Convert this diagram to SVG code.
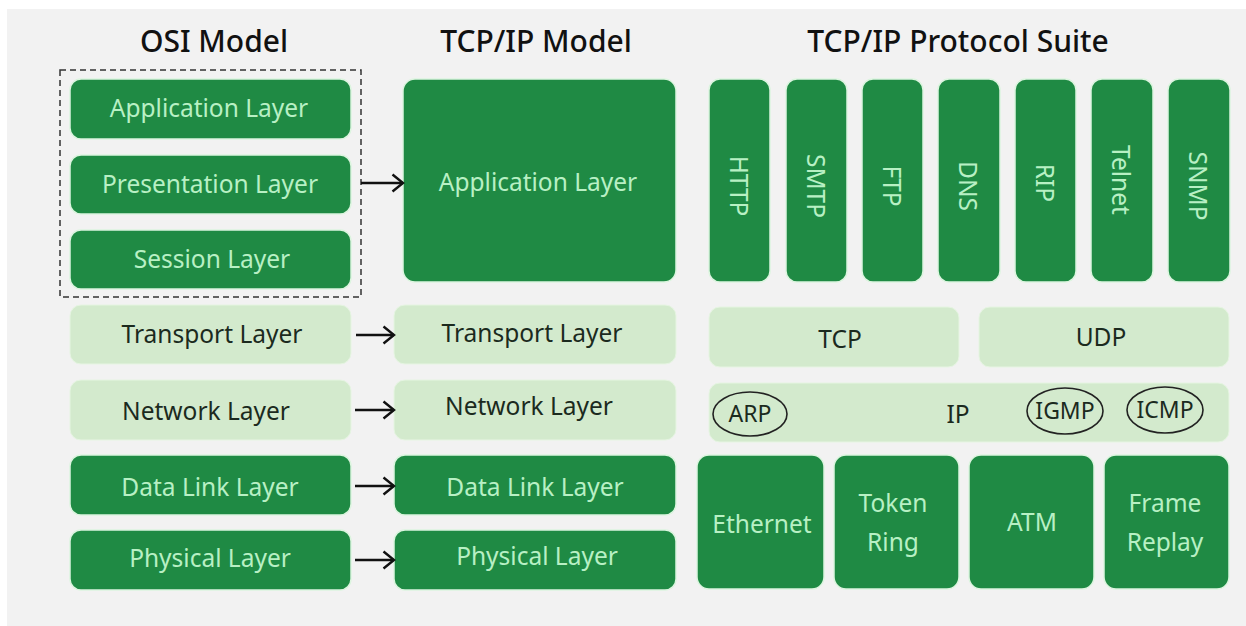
<svg xmlns="http://www.w3.org/2000/svg" width="1246" height="626" viewBox="0 0 1246 626">
<defs>
<style>
.dk{fill:#1f8a44;stroke:#dcf5df;stroke-width:1.5}
.lt{fill:#d3eacd;stroke:#e6f5e2;stroke-width:1}
.tl{font-family:"Noto Sans","Liberation Sans",sans-serif;font-size:24.5px;fill:#b8f0c4;text-anchor:middle;dominant-baseline:central}
.td{font-family:"Noto Sans","Liberation Sans",sans-serif;font-size:24.5px;fill:#1b2a1e;text-anchor:middle;dominant-baseline:central}
.sm{font-size:23px}
.title{font-family:"Noto Sans","Liberation Sans",sans-serif;font-size:30px;font-weight:500;fill:#111;text-anchor:middle}
.arr{stroke:#111;stroke-width:2.4;fill:none}
.ov{fill:none;stroke:#222;stroke-width:1.6}
</style>
<marker id="ah" viewBox="0 0 14 20" refX="12.5" refY="10" markerWidth="14" markerHeight="20" markerUnits="userSpaceOnUse" orient="auto">
<path d="M2,1.5 L12.5,10 L2,18.5" fill="none" stroke="#111" stroke-width="2.4"/>
</marker>
</defs>
<rect x="0" y="0" width="1246" height="626" fill="#ffffff"/>
<rect x="7" y="9" width="1239" height="617" fill="#f2f2f2"/>

<text class="title" x="214" y="52">OSI Model</text>
<text class="title" x="536" y="52">TCP/IP Model</text>
<text class="title" x="958" y="52">TCP/IP Protocol Suite</text>

<rect id="session-group" x="60" y="70" width="301" height="227" fill="none" stroke="#333" stroke-width="1.5" stroke-dasharray="6 4"/>

<g id="osi-application"><rect class="dk" x="70" y="79" width="281" height="60" rx="11"/><text class="tl" x="209" y="107">Application Layer</text></g>
<g id="osi-presentation"><rect class="dk" x="70" y="155" width="281" height="59" rx="11"/><text class="tl" x="210" y="183">Presentation Layer</text></g>
<g id="osi-session"><rect class="dk" x="70" y="230" width="281" height="59" rx="11"/><text class="tl" x="212" y="258">Session Layer</text></g>
<g id="osi-transport"><rect class="lt" x="70" y="305" width="281" height="59" rx="11"/><text class="td" x="212" y="333">Transport Layer</text></g>
<g id="osi-network"><rect class="lt" x="70" y="380" width="281" height="60" rx="11"/><text class="td" x="206" y="410">Network Layer</text></g>
<g id="osi-datalink"><rect class="dk" x="70" y="455" width="281" height="60" rx="11"/><text class="tl" x="210" y="486">Data Link Layer</text></g>
<g id="osi-physical"><rect class="dk" x="70" y="530" width="281" height="60" rx="11"/><text class="tl" x="210" y="557">Physical Layer</text></g>

<g id="tcpip-application"><rect class="dk" x="403" y="79" width="273" height="203" rx="12"/><text class="tl" x="538" y="181">Application Layer</text></g>
<g id="tcpip-transport"><rect class="lt" x="394" y="305" width="282" height="59" rx="11"/><text class="td" x="532" y="332">Transport Layer</text></g>
<g id="tcpip-network"><rect class="lt" x="394" y="380" width="282" height="60" rx="11"/><text class="td" x="529" y="405">Network Layer</text></g>
<g id="tcpip-datalink"><rect class="dk" x="394" y="455" width="282" height="60" rx="11"/><text class="tl" x="535" y="486">Data Link Layer</text></g>
<g id="tcpip-physical"><rect class="dk" x="394" y="530" width="282" height="60" rx="11"/><text class="tl" x="537" y="555">Physical Layer</text></g>

<g id="http"><rect class="dk" x="709" y="79" width="61" height="203" rx="11"/><text class="tl" transform="translate(739,186) rotate(90)">HTTP</text></g>
<g id="smtp"><rect class="dk" x="786" y="79" width="61" height="203" rx="11"/><text class="tl" transform="translate(816,186) rotate(90)">SMTP</text></g>
<g id="ftp"><rect class="dk" x="862" y="79" width="61" height="203" rx="11"/><text class="tl" transform="translate(892,186) rotate(90)">FTP</text></g>
<g id="dns"><rect class="dk" x="938" y="79" width="62" height="203" rx="11"/><text class="tl" transform="translate(968,186) rotate(90)">DNS</text></g>
<g id="rip"><rect class="dk" x="1015" y="79" width="61" height="203" rx="11"/><text class="tl" transform="translate(1045,183) rotate(90)">RIP</text></g>
<g id="telnet"><rect class="dk" x="1091" y="79" width="62" height="203" rx="11"/><text class="tl" transform="translate(1121,180) rotate(90)">Telnet</text></g>
<g id="snmp"><rect class="dk" x="1168" y="79" width="62" height="203" rx="11"/><text class="tl" transform="translate(1198,186) rotate(90)">SNMP</text></g>

<g id="tcp"><rect class="lt" x="709" y="307" width="250" height="60" rx="11"/><text class="td" x="840" y="338">TCP</text></g>
<g id="udp"><rect class="lt" x="979" y="307" width="250" height="60" rx="11"/><text class="td" x="1101" y="336">UDP</text></g>

<g id="ip"><rect class="lt" x="709" y="383" width="520" height="59" rx="11"/><text class="td" x="958" y="413">IP</text></g>
<g id="arp"><ellipse class="ov" cx="750" cy="414" rx="37" ry="22"/><text class="td sm" x="750" y="413">ARP</text></g>
<g id="igmp"><ellipse class="ov" cx="1065" cy="411" rx="38" ry="23"/><text class="td sm" x="1065" y="410">IGMP</text></g>
<g id="icmp"><ellipse class="ov" cx="1165" cy="410" rx="38" ry="23"/><text class="td sm" x="1165" y="409">ICMP</text></g>

<g id="ethernet"><rect class="dk" x="697" y="455" width="127" height="134" rx="12"/><text class="tl" x="762" y="523">Ethernet</text></g>
<g id="token-ring"><rect class="dk" x="834" y="455" width="125" height="134" rx="12"/><text class="tl" x="893" y="502">Token</text><text class="tl" x="893" y="541">Ring</text></g>
<g id="atm"><rect class="dk" x="969" y="455" width="125" height="134" rx="12"/><text class="tl" x="1032" y="521">ATM</text></g>
<g id="frame-replay"><rect class="dk" x="1104" y="455" width="125" height="134" rx="12"/><text class="tl" x="1165" y="502">Frame</text><text class="tl" x="1165" y="541">Replay</text></g>

<g id="connectors">
<line class="arr" x1="361" y1="183" x2="403" y2="183" marker-end="url(#ah)"/>
<line class="arr" x1="356" y1="335" x2="394" y2="335" marker-end="url(#ah)"/>
<line class="arr" x1="355" y1="410" x2="394" y2="410" marker-end="url(#ah)"/>
<line class="arr" x1="355" y1="486" x2="394" y2="486" marker-end="url(#ah)"/>
<line class="arr" x1="355" y1="560" x2="394" y2="560" marker-end="url(#ah)"/>
</g>
</svg>
